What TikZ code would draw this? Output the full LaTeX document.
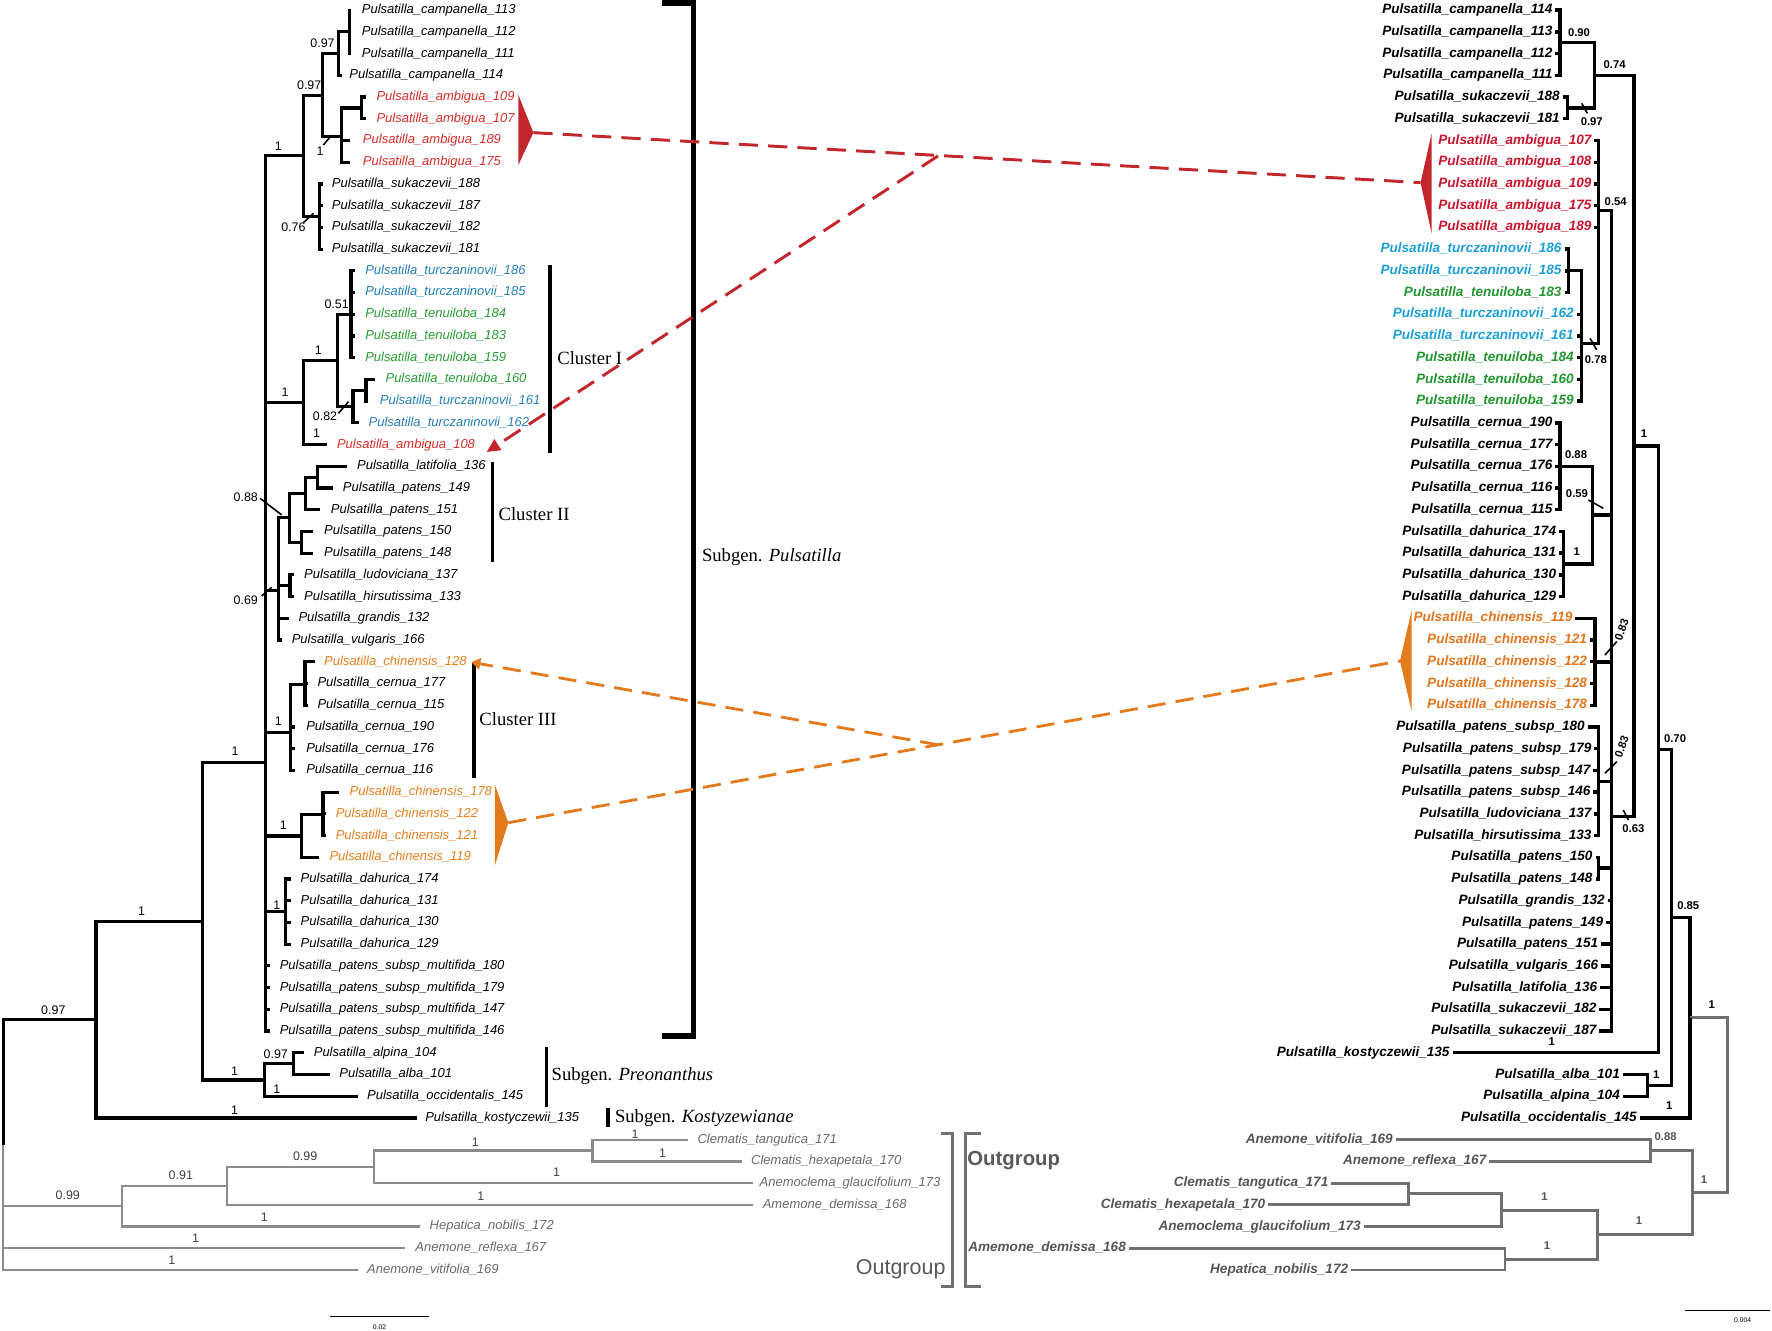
\documentclass[tikz,border=0pt]{standalone}
\usepackage{fontspec}
\setmainfont{Liberation Sans}
\newfontfamily\serfont{Liberation Serif}
\usetikzlibrary{arrows.meta}
\definecolor{ambred}{RGB}{193,39,45}
\definecolor{lred}{RGB}{214,46,42}
\definecolor{lblue}{RGB}{36,128,184}
\definecolor{lgreen}{RGB}{40,158,52}
\definecolor{lorange}{RGB}{229,127,30}
\definecolor{rred}{RGB}{200,22,48}
\definecolor{rcyan}{RGB}{28,160,214}
\definecolor{rgreen}{RGB}{36,150,48}
\definecolor{rorange}{RGB}{226,118,30}
\definecolor{dorange}{RGB}{226,122,30}
\definecolor{lgray}{RGB}{140,140,140}
\definecolor{ltgray}{RGB}{105,105,105}
\definecolor{rgray}{RGB}{112,112,112}
\definecolor{rtgray}{RGB}{85,85,85}

\begin{document}
\begin{tikzpicture}[x=1pt,y=-1pt,
  br/.style={line width=2.8pt,line join=miter},
  gbr/.style={line width=2pt,draw=lgray,line join=miter},
  rbr/.style={line width=3pt,line join=miter},
  rgbr/.style={line width=2.6pt,draw=rgray,line join=miter},
  ltax/.style={font=\fontsize{11.5}{12}\selectfont\itshape,inner sep=0pt,anchor=west,text height=8.3pt,text depth=2.2pt},
  rtax/.style={font=\fontsize{12}{13}\selectfont\bfseries\itshape,inner sep=0pt,anchor=east,text height=8.7pt,text depth=2.3pt},
  lsup/.style={font=\fontsize{11}{12}\selectfont,inner sep=0pt},
  rsup/.style={font=\fontsize{10}{11}\selectfont\bfseries,inner sep=0pt},
  tk/.style={line width=1.4pt},
  bar/.style={line width=2.8pt},
  clab/.style={font=\serfont\fontsize{16.5}{18}\selectfont,inner sep=0pt,anchor=west},
  dred/.style={draw=ambred,line width=2.6pt,dash pattern=on 17pt off 9pt},
  dorg/.style={draw=dorange,line width=2.5pt,dash pattern=on 16pt off 9pt}
]
\fill[white] (0,0) rectangle (1568,1177);
\useasboundingbox (0,0) rectangle (1568,1177);

\coordinate (nCamp3) at (309.1,28.2);
\coordinate (nCamp) at (299.4,47.4);
\coordinate (nAmb2) at (320,95.5);
\coordinate (nAmb) at (302.3,121.1);
\coordinate (nCampAmb) at (285.5,84.2);
\coordinate (nSuk) at (282.6,191.6);
\coordinate (nTop) at (268.4,137.9);
\coordinate (nTuA) at (310.6,278.1);
\coordinate (nTuC) at (323.9,345.3);
\coordinate (nTuB) at (312.3,359.8);
\coordinate (nClI) at (298.5,319);
\coordinate (nClIp) at (268.4,356.2);
\coordinate (nLat) at (281,422.2);
\coordinate (nLatP) at (270,436.6);
\coordinate (nPat) at (267,479.9);
\coordinate (nClII) at (256,458.2);
\coordinate (nLud) at (256.6,518.3);
\coordinate (nPat69) at (246.3,522.5);
\coordinate (nCer3) at (269.9,605.6);
\coordinate (nClIII) at (257.2,648.3);
\coordinate (nChi3) at (285.8,720.9);
\coordinate (nChi) at (266.9,739.8);
\coordinate (nDah) at (252.6,806.7);
\coordinate (nPoly) at (235,674.5);
\coordinate (nAlp) at (260,941.2);
\coordinate (nPre) at (233.7,955.6);
\coordinate (nPuls) at (179.5,815.1);
\coordinate (nIng) at (85,902.2);
\coordinate (nClem) at (524.2,1018);
\coordinate (nClemA) at (330.7,1032.4);
\coordinate (nOut2) at (201,1049.2);
\coordinate (nOut1) at (108,1067.2);
\coordinate (nRoot) at (2.8,1013);

\coordinate (nRCamp) at (1380.4,37.8);
\coordinate (nRSuk) at (1386.9,95.5);
\coordinate (nR090) at (1410.8,66.65);
\coordinate (nRTT) at (1387.8,239.6);
\coordinate (nR078) at (1399.6,303.7);
\coordinate (nR054) at (1414.3,186.25);
\coordinate (nRCer) at (1380.4,412.6);
\coordinate (nRDah) at (1383.4,499.1);
\coordinate (nR059) at (1409.3,455.85);
\coordinate (nR083a) at (1411.3,585.7);
\coordinate (nR083b) at (1414.3,691.3);
\coordinate (nRPat) at (1414.3,768.2);
\coordinate (nRPoly) at (1426.1,722.5);
\coordinate (nR1) at (1445.9,394.6);
\coordinate (nR070) at (1467.4,663.1);
\coordinate (nRAlb) at (1457.9,960.4);
\coordinate (nR085) at (1479.2,811.75);
\coordinate (nRIng) at (1495.5,900.5);
\coordinate (nR088) at (1460.8,1018);
\coordinate (nRClem) at (1246.1,1056.5);
\coordinate (nRClemA) at (1328.4,1070.9);
\coordinate (nRHep) at (1331.7,1114.2);
\coordinate (nROut2) at (1413.2,1092.5);
\coordinate (nROut) at (1497.5,1055.3);
\coordinate (nRRoot) at (1528.8,977.9);

\foreach \pa/\ch in {nCamp/nCamp3,nCampAmb/nCamp,nAmb/nAmb2,nCampAmb/nAmb,nTop/nCampAmb,nTop/nSuk,
  nPoly/nTop,nClI/nTuA,nTuB/nTuC,nClI/nTuB,nClIp/nClI,nPoly/nClIp,nLatP/nLat,nClII/nLatP,nClII/nPat,
  nPat69/nClII,nPat69/nLud,nPoly/nPat69,nClIII/nCer3,nPoly/nClIII,nChi/nChi3,nPoly/nChi,nPoly/nDah,
  nPuls/nPoly,nPre/nAlp,nPuls/nPre,nIng/nPuls,nRoot/nIng}
  \draw[br] (\pa) |- (\ch);
\foreach \pa/\ch in {nClemA/nClem,nOut2/nClemA,nOut1/nOut2,nRoot/nOut1}
  \draw[gbr] (\pa) |- (\ch);

\foreach \rw/\tx/\lx/\pa/\cl/\nm in {
  0/311/320/nCamp3/black/campanella\_113, 1/311/320/nCamp3/black/campanella\_112,
  2/311/320/nCamp3/black/campanella\_111, 3/302.4/309/nCamp/black/campanella\_114,
  4/324/333/nAmb2/lred/ambigua\_109, 5/324/333/nAmb2/lred/ambigua\_107,
  6/310/321/nAmb/lred/ambigua\_189, 7/310/321/nAmb/lred/ambigua\_175,
  8/286/293.5/nSuk/black/sukaczevii\_188, 9/286/293.5/nSuk/black/sukaczevii\_187,
  10/286/293.5/nSuk/black/sukaczevii\_182, 11/286/293.5/nSuk/black/sukaczevii\_181,
  12/314/323/nTuA/lblue/turczaninovii\_186, 13/314/323/nTuA/lblue/turczaninovii\_185,
  14/314/323/nTuA/lgreen/tenuiloba\_184, 15/314/323/nTuA/lgreen/tenuiloba\_183,
  16/314/323/nTuA/lgreen/tenuiloba\_159, 17/331.6/341/nTuC/lgreen/tenuiloba\_160,
  18/326/336/nTuC/lblue/turczaninovii\_161, 19/318/326/nTuB/lblue/turczaninovii\_162,
  20/289.6/298/nClIp/lred/ambigua\_108, 21/306.8/315.8/nLat/black/latifolia\_136,
  22/295/303.3/nLat/black/patens\_149, 23/283.2/292.6/nLatP/black/patens\_151,
  24/277.3/286.7/nPat/black/patens\_150, 25/277.3/286.7/nPat/black/patens\_148,
  26/260.1/269/nLud/black/ludoviciana\_137, 27/260.1/269/nLud/black/hirsutissima\_133,
  28/256/264/nPat69/black/grandis\_132, 29/249.2/258/nPat69/black/vulgaris\_166,
  30/278.7/286.7/nCer3/lorange/chinensis\_128, 31/272.8/280.8/nCer3/black/cernua\_177,
  32/272.8/280.8/nCer3/black/cernua\_115, 33/261/270.8/nClIII/black/cernua\_190,
  34/261/270.8/nClIII/black/cernua\_176, 35/261/270.8/nClIII/black/cernua\_116,
  36/300.3/309.2/nChi3/lorange/chinensis\_178, 37/288.7/296.9/nChi3/lorange/chinensis\_122,
  38/288.7/296.9/nChi3/lorange/chinensis\_121, 39/282.5/291.4/nChi/lorange/chinensis\_119,
  40/257.2/265.9/nDah/black/dahurica\_174, 41/257.2/265.9/nDah/black/dahurica\_131,
  42/257.2/265.9/nDah/black/dahurica\_130, 43/257.2/265.9/nDah/black/dahurica\_129,
  44/238.5/247.4/nPoly/black/patens\_subsp\_multifida\_180,
  45/238.5/247.4/nPoly/black/patens\_subsp\_multifida\_179,
  46/238.5/247.4/nPoly/black/patens\_subsp\_multifida\_147,
  47/238.5/247.4/nPoly/black/patens\_subsp\_multifida\_146,
  48/269.4/277.5/nAlp/black/alpina\_104, 49/292.2/300.2/nAlp/black/alba\_101,
  50/316.7/324.7/nPre/black/occidentalis\_145, 51/369.1/376.1/nIng/black/kostyczewii\_135}{
  \pgfmathsetmacro\yy{9+19.22*\rw}
  \coordinate (lt\rw) at (\tx,\yy);
  \draw[br] (\pa) |- (lt\rw);
  \node[ltax,text=\cl] (ll\rw) at (\lx,\yy) {Pulsatilla\_\nm};
}
\foreach \rw/\tx/\lx/\pa/\nm in {
  52/608.4/617/nClem/Clematis\_tangutica\_171, 53/656.6/664.5/nClem/Clematis\_hexapetala\_170,
  54/666/672/nClemA/Anemoclema\_glaucifolium\_173, 55/666.3/674.8/nOut2/Amemone\_demissa\_168,
  56/371.3/380/nOut1/Hepatica\_nobilis\_172, 57/358.3/367.4/nRoot/Anemone\_reflexa\_167,
  58/316.8/324.7/nRoot/Anemone\_vitifolia\_169}{
  \pgfmathsetmacro\yy{9+19.22*\rw}
  \coordinate (lt\rw) at (\tx,\yy);
  \draw[gbr] (\pa) |- (lt\rw);
  \node[ltax,text=ltgray] (ll\rw) at (\lx,\yy) {\nm};
}

\foreach \nm/\x/\y/\v in {sA1/285.4/38.4/0.97,sA2/273.6/75.2/0.97,sA3/283.2/134.2/1,sA4/246.3/129.8/1,
  sA5/259.6/201.5/0.76,sB1/297.9/269/0.51,sB2/281.7/309.7/1,sB3/252.2/347.5/1,sB4/287.6/368.7/0.82,
  sB5/280.2/383.4/1,sC1/217.5/440.4/0.88,sC2/217.5/531/0.69,sD1/246.3/638.6/1,sD2/208/665/1,
  sD3/250.7/730/1,sD4/244.9/800.8/1,sD5/125.3/806.7/1,sE1/47.2/893.7/0.97,sE2/207.5/947.6/1,
  sE3/244/932.8/0.97,sE4/245/963.9/1,sE5/207.5/982.3/1}
  \node[lsup] (\nm) at (\x,\y) {\v};
\foreach \nm/\x/\y/\v in {sF1/60/1058/0.99,sF2/160/1040/0.91,sF3/270/1023/0.99,sF4/420.7/1010.3/1,
  sF5/562/1004/1,sF6/586.2/1020.5/1,sF7/492.6/1037/1,sF8/425.4/1058.4/1,sF9/234/1077/1,
  sF10/173/1096/1,sF11/152/1115/1}
  \node[lsup,text=black!75] (\nm) at (\x,\y) {\v};
\draw[tk] (sA3) ++(2.9,-5.9) -- ++(7.4,-8.8);
\draw[tk] (sA5) ++(8.9,-4.5) -- ++(8.9,-8.2);
\draw[tk] (sB4) ++(11.9,-3) -- ++(8.9,-10.3);
\draw[tk] (sC1) ++(12.6,0.5) -- ++(19.2,14.8);
\draw[tk] (sC2) ++(14,-3.6) -- ++(8.9,-7.7);

\foreach \pa/\ch in {nR090/nRCamp,nR090/nRSuk,nR078/nRTT,nR054/nR078,nR059/nRCer,nR059/nRDah,
  nRPoly/nR054,nRPoly/nR059,nRPoly/nR083a,nRPoly/nR083b,nRPoly/nRPat,nR1/nR090,nR1/nRPoly,
  nR070/nR1,nR085/nR070,nR085/nRAlb,nRIng/nR085}
  \draw[rbr] (\pa) |- (\ch);
\foreach \pa/\ch in {nRRoot/nRIng,nRRoot/nROut,nROut/nR088,nROut/nROut2,nROut2/nRClemA,
  nROut2/nRHep,nRClemA/nRClem}
  \draw[rgbr] (\pa) |- (\ch);

\foreach \rw/\le/\pa/\cl/\nm in {
  0/1373.9/nRCamp/black/campanella\_114, 1/1373.9/nRCamp/black/campanella\_113,
  2/1373.9/nRCamp/black/campanella\_112, 3/1373.9/nRCamp/black/campanella\_111,
  4/1380.4/nRSuk/black/sukaczevii\_188, 5/1380.4/nRSuk/black/sukaczevii\_181,
  6/1408.4/nR054/rred/ambigua\_107, 7/1408.4/nR054/rred/ambigua\_108,
  8/1408.4/nR054/rred/ambigua\_109, 9/1408.4/nR054/rred/ambigua\_175,
  10/1408.4/nR054/rred/ambigua\_189, 11/1381.9/nRTT/rcyan/turczaninovii\_186,
  12/1381.9/nRTT/rcyan/turczaninovii\_185, 13/1381.9/nRTT/rgreen/tenuiloba\_183,
  14/1392.7/nR078/rcyan/turczaninovii\_162, 15/1392.7/nR078/rcyan/turczaninovii\_161,
  16/1392.7/nR078/rgreen/tenuiloba\_184, 17/1392.7/nR078/rgreen/tenuiloba\_160,
  18/1392.7/nR078/rgreen/tenuiloba\_159, 19/1373.9/nRCer/black/cernua\_190,
  20/1373.9/nRCer/black/cernua\_177, 21/1373.9/nRCer/black/cernua\_176,
  22/1373.9/nRCer/black/cernua\_116, 23/1373.9/nRCer/black/cernua\_115,
  24/1377.1/nRDah/black/dahurica\_174, 25/1377.1/nRDah/black/dahurica\_131,
  26/1377.1/nRDah/black/dahurica\_130, 27/1377.1/nRDah/black/dahurica\_129,
  28/1391.6/nR083a/rorange/chinensis\_119, 29/1404.5/nR083a/rorange/chinensis\_121,
  30/1404.5/nR083a/rorange/chinensis\_122, 31/1404.5/nR083a/rorange/chinensis\_128,
  32/1404.5/nR083a/rorange/chinensis\_178, 33/1402.5/nR083b/black/patens\_subsp\_180,
  34/1408.4/nR083b/black/patens\_subsp\_179, 35/1407.5/nR083b/black/patens\_subsp\_147,
  36/1407.5/nR083b/black/patens\_subsp\_146, 37/1408.4/nR083b/black/ludoviciana\_137,
  38/1408.4/nR083b/black/hirsutissima\_133, 39/1409.3/nRPat/black/patens\_150,
  40/1409.3/nRPat/black/patens\_148, 41/1420.2/nRPoly/black/grandis\_132,
  42/1418.7/nRPoly/black/patens\_149, 43/1414.3/nRPoly/black/patens\_151,
  44/1414.3/nRPoly/black/vulgaris\_166, 45/1413.4/nRPoly/black/latifolia\_136,
  46/1412.8/nRPoly/black/sukaczevii\_182, 47/1412.8/nRPoly/black/sukaczevii\_187,
  48/1282.8/nR070/black/kostyczewii\_135, 49/1433.5/nRAlb/black/alba\_101,
  50/1433.5/nRAlb/black/alpina\_104, 51/1448.5/nRIng/black/occidentalis\_145}{
  \pgfmathsetmacro\yy{9+19.22*\rw}
  \pgfmathsetmacro\tx{\le+2.5}
  \coordinate (rt\rw) at (\tx,\yy);
  \draw[rbr] (\pa) |- (rt\rw);
  \node[rtax,text=\cl] (rl\rw) at (\le,\yy) {Pulsatilla\_\nm};
}
\foreach \rw/\le/\pa/\nm in {
  52/1232.6/nR088/Anemone\_vitifolia\_169, 53/1315.4/nR088/Anemone\_reflexa\_167,
  54/1175.6/nRClem/Clematis\_tangutica\_171, 55/1119.8/nRClem/Clematis\_hexapetala\_170,
  56/1204.2/nRClemA/Anemoclema\_glaucifolium\_173, 57/996.4/nRHep/Amemone\_demissa\_168,
  58/1193.1/nRHep/Hepatica\_nobilis\_172}{
  \pgfmathsetmacro\yy{9+19.22*\rw}
  \pgfmathsetmacro\tx{\le+2.5}
  \coordinate (rt\rw) at (\tx,\yy);
  \draw[rgbr] (\pa) |- (rt\rw);
  \node[rtax,text=rtgray] (rl\rw) at (\le,\yy) {\nm};
}

\foreach \nm/\x/\y/\v in {r1/1397.2/28.6/0.90,r2/1408.5/107.7/0.97,r3/1428.8/56.9/0.74,
  r4/1429.7/178.5/0.54,r5/1412.1/318/0.78,r6/1454.7/383.4/1,r7/1394.6/402.6/0.88,
  r8/1395.4/436.5/0.59,r9/1395.2/488.2/1,r12/1482.2/653.3/0.70,r13/1445.3/733/0.63,
  r14/1493.9/801.4/0.85,r15/1373.2/921.7/1,r16/1465.5/951.2/1,r17/1477/978.3/1,r18/1514.6/889.3/1}
  \node[rsup] (\nm) at (\x,\y) {\v};
\node[rsup,rotate=70] (r10) at (1435,557.5) {0.83};
\node[rsup,rotate=70] (r11) at (1435,660.7) {0.83};
\foreach \nm/\x/\y/\v in {r19/1473.9/1005.6/0.88,r20/1507.9/1043.7/1,r21/1450.3/1080/1,
  r22/1366.6/1059/1,r23/1368.8/1102.5/1}
  \node[rsup,text=rtgray] (\nm) at (\x,\y) {\v};
\draw[tk] (r2) ++(-8.9,-16.3) -- ++(5,8.9);
\draw[tk] (r5) ++(-5.1,-18.6) -- ++(5.9,10.3);
\draw[tk] (r8) ++(10.1,5.9) -- ++(13.2,7.4);
\draw[tk] (r10) ++(-14.8,22.1) -- ++(10.4,-11.8);
\draw[tk] (r11) ++(-14.8,23.6) -- ++(10.4,-10.3);
\draw[tk] (r13) ++(-8.9,-16.2) -- ++(4.4,8.8);

\draw[line width=5pt,line join=miter] (586,2.5) -- (613.5,2.5) -- (613.5,916.5) -- (586,916.5);
\node[clab] (gPuls) at (621,493) {Subgen. \textit{Pulsatilla}};
\draw[bar] (486.7,234.5) -- (486.7,400.6);
\node[clab] (cl1) at (493,317) {Cluster I};
\draw[bar] (436,408.5) -- (436,497);
\node[clab] (cl2) at (441,455) {Cluster II};
\draw[bar] (419.4,585.5) -- (419.4,688.7);
\node[clab] (cl3) at (424,636) {Cluster III};
\draw[line width=3pt] (483.6,926.2) -- (483.6,979.3);
\node[clab] (gPre) at (488,952) {Subgen. \textit{Preonanthus}};
\draw[line width=3.5pt] (538.4,980.5) -- (538.4,997);
\node[clab] (gKos) at (544,989) {Subgen. \textit{Kostyzewianae}};

\draw[line width=2.7pt,draw=rgray,line join=miter] (832.3,1002.8) -- (843,1002.8) -- (843,1138.6) -- (832.3,1138.6);
\draw[line width=2.7pt,draw=rgray,line join=miter] (868,1002.8) -- (854.4,1002.8) -- (854.4,1138.6) -- (868,1138.6);
\node[font=\fontsize{19}{20}\selectfont,text=black!65,inner sep=0pt] (outL) at (797,1123) {Outgroup};
\node[font=\fontsize{18}{20}\selectfont\bfseries,text=black!65,inner sep=0pt] (outR) at (897,1027) {Outgroup};

\coordinate (redL) at (472,117.4);
\coordinate (redR) at (1257,161.6);
\coordinate (redJ) at (830,138);
\coordinate (redA) at (430.6,400);
\fill[ambred] (458.7,84) -- (redL) -- (458.7,146) -- cycle;
\fill[ambred] (1266.8,118) -- (redR) -- (1266.8,206.5) -- cycle;
\draw[dred] (redL) -- (redR);
\draw[dred,-{Triangle[length=12pt,width=11pt]}] (redJ) -- (redA);

\coordinate (orgL) at (449.8,728);
\coordinate (orgR) at (1238.8,584.9);
\coordinate (orgJ) at (830,659);
\coordinate (orgA) at (417,586);
\fill[dorange] (438,694.6) -- (orgL) -- (438,765.4) -- cycle;
\fill[dorange] (1249.2,539.7) -- (orgR) -- (1249.2,629.7) -- cycle;
\draw[dorg] (orgL) -- (orgR);
\draw[dorg,-{Triangle[length=8pt,width=10pt]}] (orgJ) -- (orgA);

\draw[line width=0.8pt] (292.4,1164.5) -- (379.3,1164.5);
\node[font=\fontsize{6}{7}\selectfont,inner sep=0pt] (scL) at (335.8,1174) {0.02};
\draw[line width=0.8pt] (1491.4,1159.2) -- (1566,1159.2);
\node[font=\fontsize{6}{7}\selectfont,inner sep=0pt] (scR) at (1542,1168) {0.004};
\end{tikzpicture}
\end{document}
